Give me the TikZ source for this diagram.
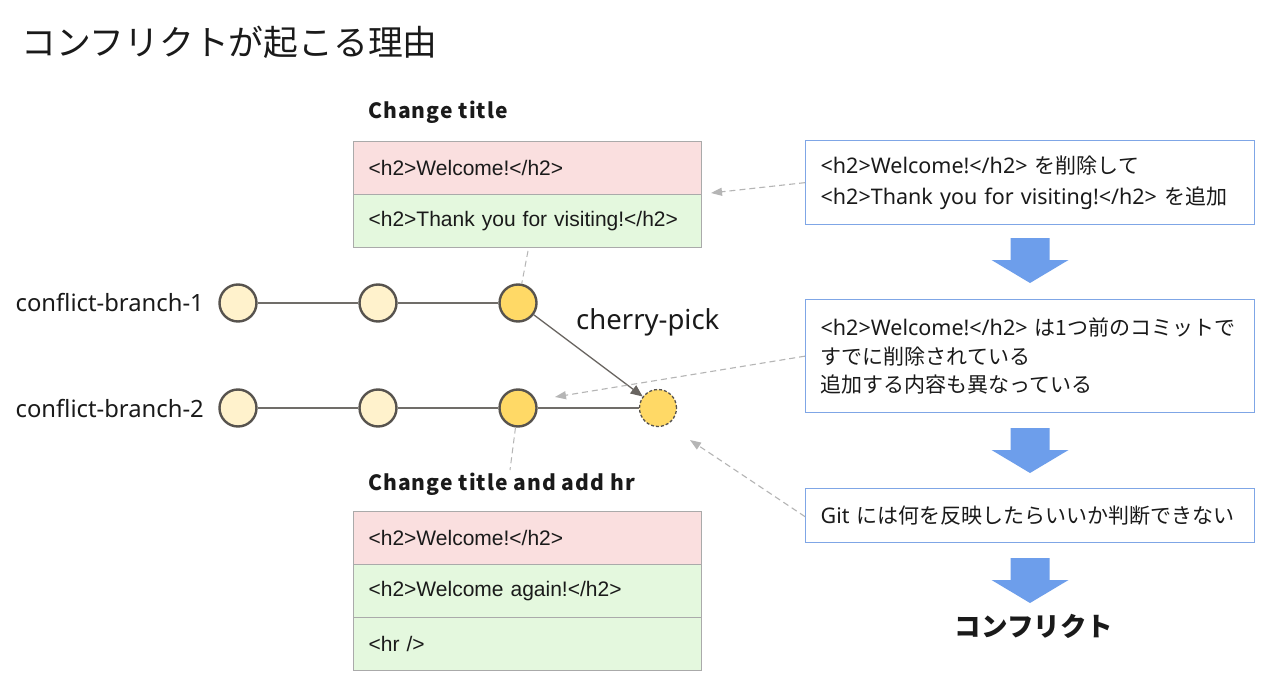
\documentclass[tikz,border=0pt]{standalone}
\usepackage{fontspec}
\setmainfont{Noto Sans}
\newfontfamily\jp{Noto Sans CJK JP}
\newfontfamily\jpsp{Noto Sans CJK JP}[LetterSpace=5]
\newfontfamily\arialf{Liberation Sans}
\usetikzlibrary{arrows.meta}
\definecolor{commitlight}{HTML}{FFF2CC}
\definecolor{commitdark}{HTML}{FFD966}
\definecolor{commitline}{HTML}{57534E}
\definecolor{rowpink}{HTML}{FADFDF}
\definecolor{rowgreen}{HTML}{E4F8DE}
\definecolor{rowline}{HTML}{AAAAAA}
\definecolor{blueline}{HTML}{7FA6E6}
\definecolor{bluearrow}{HTML}{6D9EEB}
\definecolor{notegray}{HTML}{B5B5B5}
\definecolor{txt}{HTML}{1A1A1A}
\newcommand{\J}[1]{{\jp\fontsize{21pt}{28.5pt}\selectfont #1}}
\tikzset{
  commit/.style={circle, draw=commitline, line width=2.4pt, minimum size=37pt, inner sep=0pt},
  clight/.style={commit, fill=commitlight},
  cdark/.style={commit, fill=commitdark},
  branch/.style={draw=commitline!85, line width=1.4pt},
  rowbox/.style={draw=rowline, line width=1.2pt, anchor=north west, minimum width=348pt, text width=318pt, inner xsep=15pt, align=left, font=\arialf\fontsize{21pt}{24pt}\selectfont, text=txt},
  infobox/.style={draw=blueline, line width=1.3pt, anchor=north west, fill=white, text width=419pt, inner xsep=15pt, align=left, text=txt},
  branchlabel/.style={anchor=east, font=\fontsize{23.8pt}{27pt}\selectfont, text=txt, inner sep=0pt},
  heading/.style={anchor=west, font=\jpsp\bfseries\fontsize{21pt}{25pt}\selectfont, text=txt, inner sep=0pt},
  note/.style={draw=notegray, line width=1.1pt, dash pattern=on 6pt off 4pt, -{Triangle[length=11pt,width=8pt,fill=notegray]}},
  tick/.style={draw=notegray, line width=1pt, dash pattern=on 6pt off 4pt},
  pickarrow/.style={draw=commitline!90, line width=1.3pt, -{Triangle[length=12pt,width=10pt]}},
  blockarrow/.pic={\fill[bluearrow] (-19.5,0) -- (19.5,0) -- (19.5,22) -- (38.5,22) -- (0,45) -- (-38.5,22) -- (-19.5,22) -- cycle;}
}
\begin{document}
\begin{tikzpicture}[x=1pt,y=-1pt]
\useasboundingbox[fill=white] (0,0) rectangle (1282,695);

% title
\node[anchor=west, inner sep=0pt, font=\jp\fontsize{34.8pt}{40pt}\selectfont, text=txt] (title) at (21,42) {コンフリクトが起こる理由};

% commits
\node[clight] (c11) at (238,303) {};
\node[clight] (c12) at (378,303) {};
\node[cdark]  (c13) at (518,303) {};
\node[clight] (c21) at (238,408) {};
\node[clight] (c22) at (378,408) {};
\node[cdark]  (c23) at (518,408) {};
\node[commit, fill=commitdark, dashed, line width=1.3pt, dash pattern=on 3pt off 2pt] (cp) at (658,408) {};

\draw[branch] (c11) -- (c12);
\draw[branch] (c12) -- (c13);
\draw[branch] (c21) -- (c22);
\draw[branch] (c22) -- (c23);
\draw[branch] (c23) -- (cp);
\draw[pickarrow] (c13) -- (cp);

\node[branchlabel] (l1) at (204,303) {conflict-branch-1};
\node[branchlabel] (l2) at (204,409) {conflict-branch-2};
\node[anchor=west, inner sep=0pt, font=\fontsize{27.5pt}{30pt}\selectfont, text=txt] (cplabel) at (576,322) {cherry-pick};

% top table
\node[heading] (h1) at (368,112) {Change title};
\node[rowbox, fill=rowpink, minimum height=53pt] (t1a) at (353,141) {<h2>Welcome!</h2>};
\node[rowbox, fill=rowgreen, minimum height=53pt] (t1b) at (353,194) {<h2>Thank you for visiting!</h2>};

% bottom table
\node[heading] (h2) at (368,484) {Change title and add hr};
\node[rowbox, fill=rowpink, minimum height=53pt] (t2a) at (353,511) {<h2>Welcome!</h2>};
\node[rowbox, fill=rowgreen, minimum height=53pt] (t2b) at (353,564) {<h2>Welcome again!</h2>};
\node[rowbox, fill=rowgreen, minimum height=53pt] (t2c) at (353,617) {<hr />};

% dashed ticks
\coordinate (d1) at (528,251);
\coordinate (d2) at (510,470);
\draw[tick] (d1) -- (c13);
\draw[tick] (c23) -- (d2);

% right boxes
\node[infobox, minimum height=84pt, font=\fontsize{21.5pt}{31pt}\selectfont] (i1) at (805,140) {<h2>Welcome!</h2> \J{を削除して}\\<h2>Thank you for visiting!</h2> \J{を追加}};
\node[infobox, minimum height=113pt, font=\fontsize{21.5pt}{28.7pt}\selectfont] (i2) at (805,299) {<h2>Welcome!</h2> \J{は1つ前のコミットで}\\\J{すでに削除されている}\\\J{追加する内容も異なっている}};
\node[infobox, minimum height=54pt, font=\fontsize{21.5pt}{28.7pt}\selectfont] (i3) at (805,488) {Git \J{には何を反映したらいいか判断できない}};

\pic at (1030,238) {blockarrow};
\pic at (1030,428) {blockarrow};
\pic at (1030,558) {blockarrow};

\node[inner sep=0pt, font=\jp\bfseries\fontsize{26.5pt}{30pt}\selectfont, text=txt] (res) at (1034,626) {コンフリクト};

% note connectors
\coordinate (n1) at (711,193);
\coordinate (n2) at (555,397);
\coordinate (n3) at (690,440);
\draw[note] (i1.west) -- (n1);
\draw[note] (i2.west) -- (n2);
\draw[note] ([yshift=-1pt]i3.west) -- (n3);
\end{tikzpicture}
\end{document}
